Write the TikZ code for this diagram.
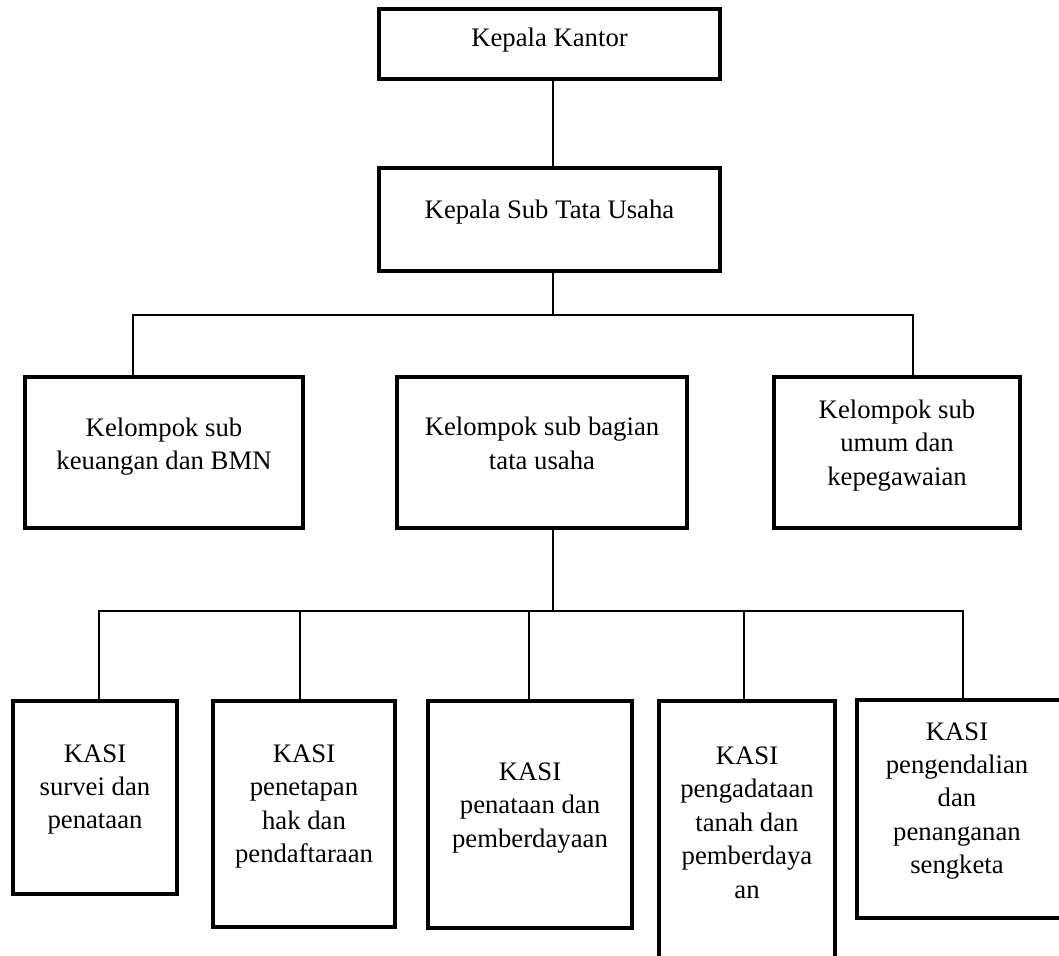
\documentclass[tikz,border=0pt]{standalone}
\usepackage{fontspec}
\setmainfont{Liberation Serif}
\begin{document}
\begin{tikzpicture}[
	box/.style={draw, line width=2.2pt, inner sep=0pt},
	txt/.style={align=center, inner sep=0pt, font=\fontsize{15.2}{19}\selectfont},
	link/.style={line width=1pt}
	]
	\path[use as bounding box, clip] (0,0) rectangle (21.18,-19.10);
	% top
	\node[box, minimum width=6.82cm, minimum height=1.40cm] (kk) at (10.99,-0.88) {};
	\node[txt] (kkt) at (10.99,-0.80) {Kepala Kantor};
	\node[box, minimum width=6.82cm, minimum height=2.06cm] (ksub) at (10.99,-4.39) {};
	\node[txt] (ksubt) at (10.99,-4.25) {Kepala Sub Tata Usaha};
	% kelompok
	\node[box, minimum width=5.56cm, minimum height=3.02cm] (m1) at (3.28,-9.05) {};
	\node[txt] (m1t) at (3.28,-8.93) {Kelompok sub\\keuangan dan BMN};
	\node[box, minimum width=5.80cm, minimum height=3.02cm] (m2) at (10.84,-9.05) {};
	\node[txt] (m2t) at (10.84,-8.87) {Kelompok sub bagian\\tata usaha};
	\node[box, minimum width=4.92cm, minimum height=3.02cm] (m3) at (17.94,-9.05) {};
	\node[txt] (m3t) at (17.94,-8.91) {Kelompok sub\\umum dan\\kepegawaian};
	% kasi
	\node[box, minimum width=3.28cm, minimum height=3.86cm] (k1) at (1.90,-15.95) {};
	\node[txt] (k1t) at (1.90,-15.79) {KASI\\survei dan\\penataan};
	\node[box, minimum width=3.64cm, minimum height=4.52cm] (k2) at (6.08,-16.28) {};
	\node[txt] (k2t) at (6.08,-16.13) {KASI\\penetapan\\hak dan\\pendaftaraan};
	\node[box, minimum width=4.08cm, minimum height=4.54cm] (k3) at (10.60,-16.29) {};
	\node[txt] (k3t) at (10.60,-16.16) {KASI\\penataan dan\\pemberdayaan};
	\node[box, minimum width=3.52cm, minimum height=5.48cm] (k4) at (14.94,-16.76) {};
	\node[txt] (k4t) at (14.94,-16.45) {KASI\\pengadataan\\tanah dan\\pemberdaya\\an};
	\node[box, minimum width=4.16cm, minimum height=4.36cm] (k5) at (19.22,-16.18) {};
	\node[txt] (k5t) at (19.14,-16.02) {KASI\\pengendalian\\dan\\penanganan\\sengketa};
	% lines
	\coordinate (sp) at (11.06,-6.30);
	\coordinate (a1) at (2.66,-6.30);
	\coordinate (a3) at (18.26,-6.30);
	\coordinate (b2) at (11.06,-12.22);
	\coordinate (s1) at (1.98,-12.22);
	\coordinate (s2) at (6.00,-12.22);
	\coordinate (s3) at (10.58,-12.22);
	\coordinate (s4) at (14.88,-12.22);
	\coordinate (s5) at (19.26,-12.22);
	\draw[link] (kk.south -| sp) -- (ksub.north -| sp);
	\draw[link] (ksub.south -| sp) -- (sp);
	\draw[link] (a1 |- m1.north) -- (a1) -- (a3) -- (a3 |- m3.north);
	\draw[link] (m2.south -| b2) -- (b2);
	\draw[link] (s1 |- k1.north) -- (s1) -- (s5) -- (s5 |- k5.north);
	\draw[link] (s2) -- (s2 |- k2.north);
	\draw[link] (s3) -- (s3 |- k3.north);
	\draw[link] (s4) -- (s4 |- k4.north);
\end{tikzpicture}
\end{document}
